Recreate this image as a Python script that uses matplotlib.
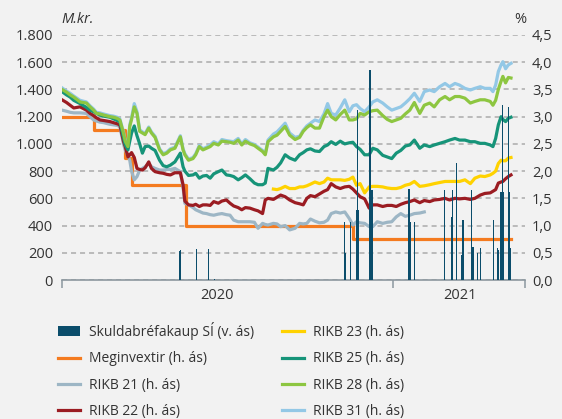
import numpy as np
import pandas as pd
import matplotlib
matplotlib.use('Agg')
import matplotlib.pyplot as plt
import matplotlib.dates as mdates
from matplotlib.ticker import FuncFormatter

plt.rcParams['font.family'] = ['Open Sans', 'DejaVu Sans']

nan = float('nan')

# common date grid for the yield series
dates = [
    '2020-01-01', '2020-01-06', '2020-01-10', '2020-01-14', '2020-01-21', '2020-01-28', '2020-02-01', '2020-02-05', '2020-02-08', '2020-02-12',
    '2020-02-16', '2020-02-23', '2020-02-27', '2020-03-02', '2020-03-05', '2020-03-09', '2020-03-11', '2020-03-14', '2020-03-16', '2020-03-18',
    '2020-03-21', '2020-03-24', '2020-03-27', '2020-03-30', '2020-04-02', '2020-04-06', '2020-04-09', '2020-04-13', '2020-04-18', '2020-04-22',
    '2020-04-26', '2020-04-30', '2020-05-05', '2020-05-11', '2020-05-14', '2020-05-16', '2020-05-20', '2020-05-25', '2020-05-28', '2020-06-01',
    '2020-06-05', '2020-06-09', '2020-06-13', '2020-06-17', '2020-06-22', '2020-06-26', '2020-07-01', '2020-07-05', '2020-07-09', '2020-07-14',
    '2020-07-18', '2020-07-22', '2020-07-27', '2020-08-01', '2020-08-05', '2020-08-10', '2020-08-13', '2020-08-16', '2020-08-22', '2020-08-26',
    '2020-08-30', '2020-09-04', '2020-09-09', '2020-09-15', '2020-09-20', '2020-09-24', '2020-09-28', '2020-10-02', '2020-10-07', '2020-10-12',
    '2020-10-17', '2020-10-21', '2020-10-25', '2020-10-30', '2020-11-04', '2020-11-09', '2020-11-14', '2020-11-18', '2020-11-22', '2020-11-26',
    '2020-12-01', '2020-12-06', '2020-12-10', '2020-12-15', '2020-12-21', '2020-12-26', '2020-12-31', '2021-01-05', '2021-01-10', '2021-01-15',
    '2021-01-20', '2021-01-25', '2021-01-31', '2021-02-05', '2021-02-11', '2021-02-16', '2021-02-22', '2021-02-28', '2021-03-05', '2021-03-11',
    '2021-03-16', '2021-03-22', '2021-03-28', '2021-04-02', '2021-04-08', '2021-04-13', '2021-04-19', '2021-04-22', '2021-04-25', '2021-04-28',
    '2021-05-01', '2021-05-03', '2021-05-06', '2021-05-09', '2021-05-12',
]

rikb21 = [
    3.12, 3.10, 3.08, 3.07, 3.07, 3.06, 3.00, 2.94, 2.92, 2.90,
    2.89, 2.86, 2.85, 2.84, 2.82, 2.50, 2.39, 2.28, 2.20, 2.00,
    1.84, 1.90, 2.02, 2.05, 2.08, 2.14, 2.08, 2.05, 2.02, 2.02,
    2.03, 2.03, 2.05, 1.99, 1.70, 1.41, 1.38, 1.33, 1.29, 1.26,
    1.23, 1.22, 1.20, 1.19, 1.21, 1.22, 1.20, 1.19, 1.10, 1.07,
    1.07, 1.07, 1.07, 1.06, 0.95, 1.04, 1.02, 1.01, 1.04, 1.03,
    0.98, 1.00, 0.92, 0.95, 1.04, 1.03, 1.04, 1.12, 1.08, 1.05,
    1.06, 1.10, 1.22, 1.25, 1.23, 1.25, 1.13, 1.01, 1.07, 1.05,
    1.04, 0.98, 0.98, 1.07, 1.04, 1.06, 1.07, 1.16, 1.22, 1.17,
    1.19, 1.22, 1.23, 1.25, nan, nan, nan, nan, nan, nan,
    nan, nan, nan, nan, nan, nan, nan, nan, nan, nan,
    nan, nan, nan, nan, nan,
]

rikb22 = [
    3.31, 3.26, 3.21, 3.16, 3.18, 3.12, 3.06, 3.02, 2.98, 2.94,
    2.93, 2.91, 2.89, 2.87, 2.85, 2.55, 2.45, 2.26, 2.30, 2.34,
    2.25, 2.05, 2.03, 2.02, 2.06, 2.17, 2.05, 1.99, 1.97, 1.96,
    1.94, 1.93, 1.97, 1.97, 1.75, 1.45, 1.38, 1.37, 1.39, 1.35,
    1.38, 1.38, 1.37, 1.44, 1.41, 1.45, 1.47, 1.41, 1.36, 1.33,
    1.29, 1.33, 1.32, 1.29, 1.27, 1.22, 1.47, 1.50, 1.48, 1.52,
    1.56, 1.53, 1.47, 1.42, 1.40, 1.38, 1.50, 1.55, 1.53, 1.58,
    1.63, 1.66, 1.77, 1.71, 1.68, 1.71, 1.72, 1.67, 1.60, 1.53,
    1.49, 1.32, 1.38, 1.38, 1.35, 1.37, 1.37, 1.35, 1.39, 1.42,
    1.44, 1.47, 1.42, 1.46, 1.44, 1.47, 1.48, 1.50, 1.47, 1.50,
    1.49, 1.50, 1.48, 1.50, 1.56, 1.59, 1.60, 1.63, 1.66, 1.78,
    1.80, 1.81, 1.86, 1.90, 1.93,
]

rikb23 = [
    nan, nan, nan, nan, nan, nan, nan, nan, nan, nan,
    nan, nan, nan, nan, nan, nan, nan, nan, nan, nan,
    nan, nan, nan, nan, nan, nan, nan, nan, nan, nan,
    nan, nan, nan, nan, nan, nan, nan, nan, nan, nan,
    nan, nan, nan, nan, nan, nan, nan, nan, nan, nan,
    nan, nan, nan, nan, nan, nan, nan, nan, 1.67, 1.66,
    1.68, 1.72, 1.68, 1.68, 1.71, 1.71, 1.73, 1.76, 1.80, 1.77,
    1.80, 1.87, 1.84, 1.84, 1.84, 1.83, 1.85, 1.89, 1.74, 1.77,
    1.60, 1.71, 1.72, 1.72, 1.71, 1.69, 1.68, 1.68, 1.70, 1.74,
    1.76, 1.81, 1.72, 1.73, 1.75, 1.77, 1.79, 1.81, 1.81, 1.81,
    1.81, 1.84, 1.77, 1.87, 1.91, 1.90, 1.93, 1.96, 2.00, 2.14,
    2.20, 2.19, 2.19, 2.24, 2.25,
]

rikb25 = [
    3.46, 3.40, 3.36, 3.30, 3.24, 3.17, 3.12, 3.09, 3.06, 3.03,
    3.01, 2.99, 2.96, 2.93, 2.91, 2.62, 2.48, 2.39, 2.55, 2.70,
    2.83, 2.65, 2.50, 2.33, 2.45, 2.46, 2.42, 2.38, 2.20, 2.10,
    2.08, 2.11, 2.17, 2.33, 2.08, 2.00, 1.92, 1.93, 1.96, 1.87,
    1.91, 1.92, 1.87, 1.95, 1.99, 2.02, 1.93, 1.92, 1.90, 1.84,
    1.88, 1.93, 1.86, 1.78, 1.75, 1.75, 1.78, 2.05, 2.02, 2.07,
    2.15, 2.30, 2.24, 2.20, 2.30, 2.34, 2.39, 2.41, 2.37, 2.36,
    2.45, 2.48, 2.54, 2.49, 2.55, 2.50, 2.52, 2.53, 2.45, 2.40,
    2.30, 2.30, 2.42, 2.39, 2.29, 2.26, 2.23, 2.33, 2.38, 2.46,
    2.48, 2.57, 2.42, 2.48, 2.45, 2.48, 2.51, 2.54, 2.57, 2.60,
    2.57, 2.57, 2.54, 2.54, 2.51, 2.51, 2.48, 2.45, 2.60, 2.85,
    3.00, 2.95, 2.91, 2.97, 2.99,
]

rikb28 = [
    3.50, 3.45, 3.40, 3.36, 3.27, 3.25, 3.18, 3.12, 3.06, 3.05,
    3.03, 3.00, 2.99, 2.97, 2.94, 2.70, 2.55, 2.45, 2.82, 2.95,
    3.18, 3.06, 2.73, 2.70, 2.67, 2.79, 2.70, 2.62, 2.39, 2.30,
    2.33, 2.39, 2.42, 2.63, 2.39, 2.30, 2.20, 2.23, 2.30, 2.45,
    2.39, 2.42, 2.45, 2.51, 2.48, 2.55, 2.54, 2.53, 2.51, 2.57,
    2.48, 2.55, 2.50, 2.47, 2.42, 2.36, 2.30, 2.54, 2.63, 2.66,
    2.73, 2.82, 2.66, 2.58, 2.62, 2.73, 2.80, 2.85, 2.79, 2.79,
    3.00, 3.12, 3.00, 2.94, 3.04, 3.12, 2.94, 2.94, 2.96, 3.06,
    3.03, 3.09, 3.11, 3.12, 3.02, 2.95, 2.91, 2.94, 2.97, 3.05,
    3.12, 3.26, 3.06, 3.21, 3.25, 3.18, 3.31, 3.37, 3.31, 3.37,
    3.37, 3.34, 3.25, 3.28, 3.31, 3.31, 3.28, 3.21, 3.30, 3.50,
    3.65, 3.74, 3.62, 3.72, 3.71,
]

rikb31 = [
    3.53, 3.47, 3.43, 3.38, 3.30, 3.27, 3.20, 3.14, 3.08, 3.07,
    3.05, 3.02, 3.01, 2.99, 2.96, 2.72, 2.57, 2.47, 2.85, 2.98,
    3.24, 3.09, 2.76, 2.72, 2.69, 2.81, 2.72, 2.64, 2.41, 2.32,
    2.35, 2.41, 2.44, 2.65, 2.41, 2.32, 2.22, 2.25, 2.32, 2.47,
    2.41, 2.44, 2.48, 2.54, 2.50, 2.58, 2.56, 2.55, 2.54, 2.60,
    2.50, 2.58, 2.52, 2.49, 2.44, 2.38, 2.32, 2.57, 2.68, 2.72,
    2.79, 2.88, 2.70, 2.62, 2.64, 2.75, 2.83, 2.88, 2.94, 2.91,
    3.05, 3.24, 3.06, 3.03, 3.16, 3.31, 3.09, 3.20, 3.22, 3.15,
    3.09, 3.18, 3.27, 3.31, 3.25, 3.18, 3.12, 3.15, 3.18, 3.25,
    3.33, 3.43, 3.28, 3.46, 3.49, 3.46, 3.55, 3.61, 3.55, 3.61,
    3.58, 3.52, 3.49, 3.52, 3.55, 3.52, 3.52, 3.46, 3.58, 3.83,
    3.95, 4.01, 3.88, 3.95, 3.98,
]

# policy rate (step changes)
rate_dates = ['2020-01-01', '2020-02-05', '2020-03-11', '2020-03-18', '2020-05-17', '2020-11-18', '2021-05-12']
rate = [3.0, 2.75, 2.25, 1.75, 1.0, 0.75, 0.75]

# bond purchases by the central bank, M.kr.
bar_dates = ['2020-05-10', '2020-05-11', '2020-05-29', '2020-06-11', '2020-06-18',
             '2020-11-09', '2020-11-10', '2020-11-15', '2020-11-22', '2020-11-23', '2020-11-24',
             '2020-12-06', '2020-12-07', '2020-12-08', '2020-12-09', '2020-12-10',
             '2021-01-19', '2021-01-21', '2021-01-25',
             '2021-02-27', '2021-03-07', '2021-03-08', '2021-03-13', '2021-03-18', '2021-03-20',
             '2021-03-29', '2021-03-31', '2021-04-05', '2021-04-08',
             '2021-04-23', '2021-04-27', '2021-04-28', '2021-04-30',
             '2021-05-01', '2021-05-03', '2021-05-04', '2021-05-09', '2021-05-10', '2021-05-11']
purchases = [210, 220, 227, 227, 7,
             428, 201, 428, 514, 1250, 514,
             245, 1543, 500, 661, 441,
             666, 428, 428,
             661, 465, 661, 862, 184, 441,
             661, 245, 196, 235,
             441, 233, 220, 220,
             649, 1286, 649, 1273, 645, 233]

labels = ['Skuldabréfakaup SÍ (v. ás)', 'Meginvextir (h. ás)', 'RIKB 21 (h. ás)', 'RIKB 22 (h. ás)',
          'RIKB 23 (h. ás)', 'RIKB 25 (h. ás)', 'RIKB 28 (h. ás)', 'RIKB 31 (h. ás)']

bg = '#F2F2F2'
text_c = '#333333'
axis_c = '#8C979F'

x = pd.to_datetime(dates)

fig = plt.figure(figsize=(5.62, 4.19), dpi=100, facecolor=bg)
ax = fig.add_axes([62 / 562, 1 - 280 / 419, 463 / 562, 245 / 419])
ax2 = ax.twinx()
ax.set_zorder(ax2.get_zorder() + 1)
ax.patch.set_visible(False)
ax2.patch.set_visible(False)

# lines on the right axis (%)
lw = 2.3
l_rate, = ax2.plot(pd.to_datetime(rate_dates), rate, drawstyle='steps-post', color='#F47B20', lw=lw, zorder=3)
l31, = ax2.plot(x, rikb31, color='#93C8E6', lw=lw, zorder=3)
l21, = ax2.plot(x, rikb21, color='#9DB6C5', lw=lw, zorder=3)
l22, = ax2.plot(x, rikb22, color='#9B1C22', lw=lw, zorder=3)
l23, = ax2.plot(x, rikb23, color='#FFD200', lw=lw, zorder=3)
l25, = ax2.plot(x, rikb25, color='#169479', lw=lw, zorder=3)
l28, = ax2.plot(x, rikb28, color='#8DC641', lw=lw, zorder=3)

# bars on the left axis (M.kr.), drawn on top
bars = ax.bar(pd.to_datetime(bar_dates), purchases, width=1.4, color='#0B4D6B', zorder=4)

ax.set_xlim(pd.Timestamp('2020-01-01'), pd.Timestamp('2021-05-27 12:00'))
ax.set_ylim(0, 1800)
ax2.set_ylim(0, 4.5)

ax.set_yticks(range(0, 1801, 200))
ax.yaxis.set_major_formatter(FuncFormatter(lambda v, p: f'{v:,.0f}'.replace(',', '.')))
ax2.set_yticks(np.arange(0, 4.51, 0.5))
ax2.yaxis.set_major_formatter(FuncFormatter(lambda v, p: f'{v:.1f}'.replace('.', ',')))
ax2.grid(axis='y', color='#ABABAB', lw=1.1, ls=(0, (3.3, 2.6)), zorder=0)

ax.tick_params(axis='y', length=0, pad=6.5, labelsize=10.5, labelcolor=text_c)
ax2.tick_params(axis='y', length=0, pad=5, labelsize=10.5, labelcolor=text_c)

xt = [pd.Timestamp('2020-01-01'), pd.Timestamp('2021-01-01'), pd.Timestamp('2021-05-27 12:00')]
ax.set_xticks(mdates.date2num(xt))
ax.set_xticklabels(['', '', ''])
ax.set_xticks(mdates.date2num([pd.Timestamp('2020-06-21'), pd.Timestamp('2021-03-16')]), minor=True)
ax.set_xticklabels(['2020', '2021'], minor=True)
ax.tick_params(axis='x', which='major', length=6, width=1.1, color=axis_c, direction='out')
ax.tick_params(axis='x', which='minor', length=0, pad=6, labelsize=10.5, labelcolor=text_c)

for s in ['top', 'left', 'right']:
    ax.spines[s].set_visible(False)
ax.spines['bottom'].set_color(axis_c)
ax.spines['bottom'].set_linewidth(1.2)
for s in ax2.spines.values():
    s.set_visible(False)

fig.text(61 / 562, 1 - 23 / 419, 'M.kr.', ha='left', va='baseline', fontsize=10.5,
         color=text_c, style='italic')
fig.text(526 / 562, 1 - 23 / 419, '%', ha='right', va='baseline', fontsize=10.5, color=text_c)

handles = [bars, l_rate, l21, l22, l23, l25, l28, l31]
leg = fig.legend(handles, labels, ncol=2, loc='upper left', bbox_to_anchor=(58 / 562, 1 - 322 / 419),
                 frameon=False, fontsize=10, handlelength=1.55, handletextpad=0.7,
                 columnspacing=2.0, labelspacing=0.82, borderpad=0, borderaxespad=0)
for t in leg.get_texts():
    t.set_color(text_c)

fig.savefig('out.png', dpi=100, facecolor=bg)
